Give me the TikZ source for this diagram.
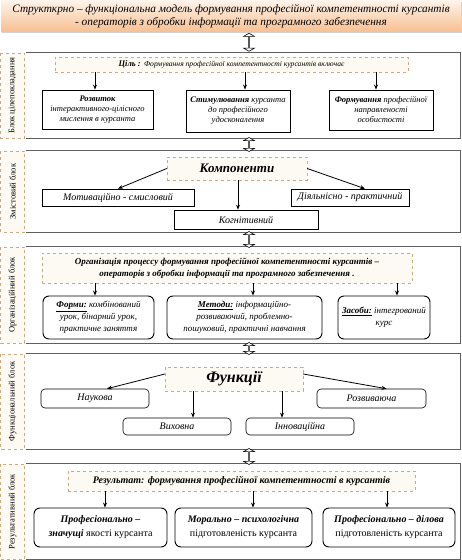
\documentclass[tikz,border=0pt]{standalone}
\usepackage{fontspec}
\setmainfont{Liberation Serif}
\usetikzlibrary{arrows.meta,shadows,shapes.arrows}
\definecolor{tanline}{RGB}{205,170,125}
\definecolor{cream}{RGB}{253,250,243}
\definecolor{blkline}{RGB}{95,95,95}
\definecolor{ttop}{RGB}{254,243,234}
\definecolor{tbot}{RGB}{247,192,146}
\newcommand\fsz[2]{\fontsize{#1}{#2}\selectfont}
\begin{document}
\begin{tikzpicture}[x=1pt,y=-1pt,
  titlebox/.style={shade, top color=ttop, bottom color=tbot, minimum width=460, minimum height=31, inner sep=0, align=center, font=\itshape\fsz{11.3}{13}, drop shadow={shadow xshift=1pt, shadow yshift=-1pt, opacity=0.35}},
  blkbox/.style={minimum width=434, minimum height=#1, inner sep=0, fill=white},
  blkedge/.style={draw=blkline, line width=1.1pt},
  sidebox/.style={draw=tanline, dashed, fill=cream, rotate=90, minimum width=#1, minimum height=24, inner sep=0, font=\fsz{8.5}{10}},
  goalbox/.style={draw=tanline, dashed, fill=cream, inner sep=1, align=center},
  sqbox/.style={draw, line width=0.9pt, fill=white, align=center, inner sep=1, font=\itshape\fsz{8.5}{10}},
  thinbox/.style={draw, line width=0.6pt, fill=white, align=center, inner sep=1, font=\itshape\fsz{10}{12}},
  rndbox/.style={draw, line width=0.9pt, rounded corners=6pt, fill=white, align=center, inner sep=1},
  arr/.style={-{Stealth[length=5pt,width=4pt]}, line width=0.8pt},
  dblarrow/.style={double arrow, draw, fill=white, line width=0.6pt, shape border rotate=90, minimum height=#1, minimum width=11, double arrow head extend=2.5pt, double arrow tip angle=120, inner sep=0}
]
\useasboundingbox (0,0) rectangle (462,560);
\fill[white] (0,0) rectangle (462,560);

% title
\node[titlebox] (title) at (231,16) {Структкрно – функціональна модель формування професійної компетентності курсантів\\- операторів з обробки інформації та програмного забезпечення};

% block 1
\node[blkbox=85] (blk1) at (243,95.5) {};
\draw[blkedge] (blk1.north west) -- (blk1.north east) -- (blk1.south east) -- (blk1.south west);
\node[sidebox=85] (side1) at (12.5,95.5) {Блок цілепокладання};
\node[goalbox, minimum width=353, minimum height=15] (goal1) at (231.5,64.5) {{\fsz{8.5}{9}\bfseries\itshape Ціль :} {\itshape\fsz{7.6}{9}Формування професійної компетентності курсантів включає}};
\node[sqbox, minimum width=111, minimum height=39] (b11) at (97.5,109.5) {\textbf{Розвиток}\\інтерактивного-цілісного\\мислення в курсанта};
\node[sqbox, minimum width=104, minimum height=42] (b12) at (238,111) {\textbf{Стимулювання} курсанта\\до професійного\\удосконалення};
\node[sqbox, minimum width=104, minimum height=40] (b13) at (381,110) {\textbf{Формування} професійної\\направленості\\особистості};
\draw[arr] ([xshift=-2.5pt]b11.north |- goal1.south) -- ([xshift=-2.5pt]b11.north);
\draw[arr] ([xshift=7pt]b12.north |- goal1.south) -- ([xshift=7pt]b12.north);
\draw[arr] ([xshift=-5pt]b13.north |- goal1.south) -- ([xshift=-5pt]b13.north);

% block 2
\node[blkbox=81] (blk2) at (243,191.5) {};
\draw[blkedge] (blk2.north west) -- (blk2.north east) -- (blk2.south east) -- (blk2.south west);
\node[sidebox=81] (side2) at (12.5,191.5) {Змістовий блок};
\node[goalbox, minimum width=140, minimum height=23, font=\bfseries\itshape\fsz{13}{15}] (comp) at (237,168.5) {Компоненти};
\node[thinbox, minimum width=152, minimum height=17] (m1) at (118,197.5) {Мотиваційно - смисловий};
\node[thinbox, minimum width=118, minimum height=17] (m2) at (350,197.5) {Діяльнісно - практичний};
\node[thinbox, minimum width=144, minimum height=19] (m3) at (246,219.5) {Когнітивний};
\draw[arr] (comp.west) -- (m1.north);
\draw[arr] (comp.east) -- ([xshift=15pt]m2.north);
\draw[arr] ([xshift=1pt]comp.south) -- ([xshift=1pt]comp.south |- m3.north);

% block 3
\node[blkbox=96] (blk3) at (243,295) {};
\draw[blkedge] (blk3.north west) -- (blk3.north east) -- (blk3.south east) -- (blk3.south west);
\node[sidebox=96] (side3) at (12.5,295) {Організаційний блок};
\node[goalbox, minimum width=370, minimum height=30, font=\bfseries\itshape\fsz{9}{12}] (org) at (227,268) {Організація процессу формування професійної компетентності курсантів –\\операторів з обробки інформації та програмного забезпечення .};
\node[rndbox, minimum width=111, minimum height=43, font=\itshape\fsz{9}{12}] (f1) at (98.5,317.5) {\underline{\textbf{Форми:}} комбінований\\урок, бінарний урок,\\практичне заняття};
\node[rndbox, minimum width=155, minimum height=43, font=\itshape\fsz{9}{12}] (f2) at (244.5,317.5) {\underline{\textbf{Методи:}} інформаційно-\\розвиваючий, проблемно-\\пошуковий, практичні навчання};
\node[rndbox, minimum width=92, minimum height=43, font=\itshape\fsz{9}{12}] (f3) at (384,317.5) {\underline{\textbf{Засоби:}} інтегрований\\курс};
\draw[arr] ([xshift=-3.5pt]f1.north |- org.south) -- ([xshift=-3.5pt]f1.north);
\draw[arr] ([xshift=8.5pt]f2.north |- org.south) -- ([xshift=8.5pt]f2.north);
\draw[arr] ([xshift=13pt]f3.north |- org.south) -- ([xshift=13pt]f3.north);

% block 4
\node[blkbox=95] (blk4) at (243,401.5) {};
\draw[blkedge] (blk4.north west) -- (blk4.north east) -- (blk4.south east) -- (blk4.south west);
\node[sidebox=95] (side4) at (12.5,401.5) {Функціональний блок};
\node[goalbox, minimum width=138, minimum height=24, font=\bfseries\itshape\fsz{16}{18}] (fun) at (234,379) {Функції};
\node[rndbox, line width=0.6pt, rounded corners=4pt, minimum width=108, minimum height=19, font=\itshape\fsz{10}{12}] (n1) at (95,398.5) {Наукова};
\node[rndbox, line width=0.6pt, rounded corners=4pt, minimum width=109, minimum height=19, font=\itshape\fsz{10}{12}] (n2) at (371.5,398.5) {Розвиваюча};
\node[rndbox, line width=0.6pt, rounded corners=4pt, minimum width=108, minimum height=17, font=\itshape\fsz{10}{12}] (n3) at (177,426.5) {Виховна};
\node[rndbox, line width=0.6pt, rounded corners=4pt, minimum width=108, minimum height=17, font=\itshape\fsz{10}{12}] (n4) at (300,426.5) {Інноваційна};
\draw[arr] ([yshift=5pt]fun.west) -- ([xshift=12pt]n1.north);
\draw[arr] ([yshift=5pt]fun.east) -- ([xshift=15pt]n2.north);
\draw[arr] ([xshift=16pt]n3.north |- fun.south) -- ([xshift=16pt]n3.north);
\draw[arr] ([xshift=-18pt]n4.north |- fun.south) -- ([xshift=-18pt]n4.north);

% block 5
\node[blkbox=95.5] (blk5) at (243,511.75) {};
\draw[blkedge] (blk5.north west) -- (blk5.north east) -- (blk5.south east) -- (blk5.south west);
\node[sidebox=95.5] (side5) at (12.5,511.75) {Результативний блок};
\node[goalbox, minimum width=347, minimum height=20, font=\bfseries\itshape\fsz{10}{12}] (res) at (241.5,481) {Результат: формування професійної компетентності в курсантів};
\node[rndbox, minimum width=133, minimum height=39, font=\fsz{10}{14}] (r1) at (100.5,527.5) {\textbf{\textit{Професіонально –}}\\\textbf{\textit{значущі}} якості курсанта};
\node[rndbox, minimum width=137, minimum height=39, font=\fsz{10}{14}] (r2) at (243.5,527.5) {\textbf{\textit{Морально – психологічна}}\\підготовленість курсанта};
\node[rndbox, minimum width=132, minimum height=39, font=\fsz{10}{14}] (r3) at (389,527.5) {\textbf{\textit{Професіонально – ділова}}\\підготовленість курсанта};
\draw[arr] ([xshift=4.5pt]r1.north |- res.south) -- ([xshift=4.5pt]r1.north);
\draw[arr] ([xshift=9.5pt]r2.north |- res.south) -- ([xshift=9.5pt]r2.north);
\draw[arr] ([xshift=-2pt]r3.north |- res.south) -- ([xshift=-2pt]r3.north);

% connectors between blocks
\path ([xshift=18pt]title.south) -- ([xshift=6pt]blk1.north) node[midway, dblarrow=18] (d0) {};
\path ([xshift=6pt]blk1.south) -- ([xshift=6pt]blk2.north) node[midway, dblarrow=14] (d1) {};
\path ([xshift=6pt]blk2.south) -- ([xshift=6pt]blk3.north) node[midway, dblarrow=16] (d2) {};
\path ([xshift=6pt]blk3.south) -- ([xshift=6pt]blk4.north) node[midway, dblarrow=12] (d3) {};
\path ([xshift=6pt]blk4.south) -- ([xshift=6pt]blk5.north) node[midway, dblarrow=16] (d4) {};
\end{tikzpicture}
\end{document}
